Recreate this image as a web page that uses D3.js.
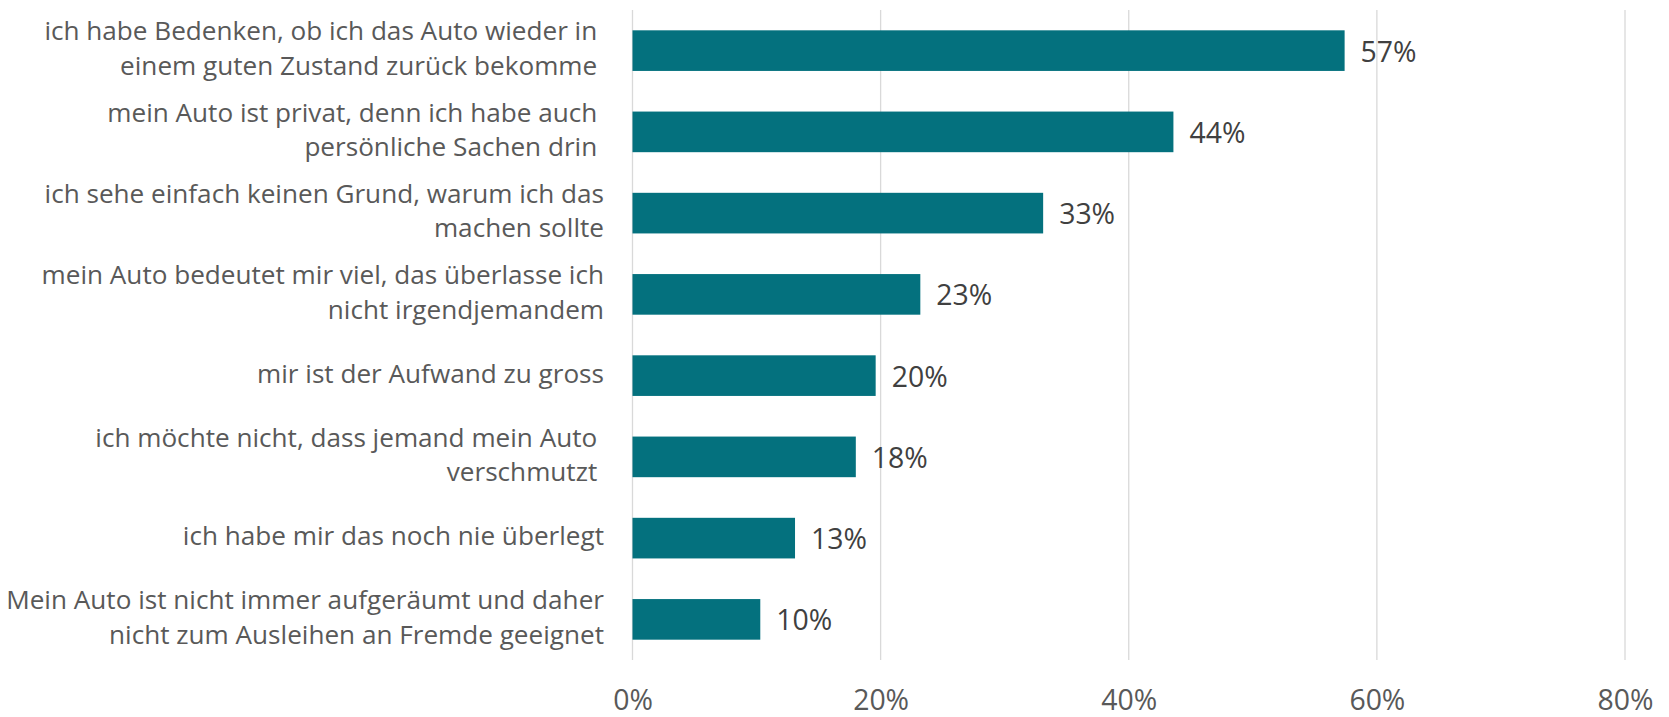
<!DOCTYPE html>
<html>
<head>
<meta charset="utf-8">
<script src="https://cdn.jsdelivr.net/npm/d3@7"></script>
<style>
  html, body { margin: 0; padding: 0; background: #ffffff; }
  svg { display: block; }
  text { font-family: "Open Sans", Lato, sans-serif; }
</style>
</head>
<body>
<svg id="chart" width="1669" height="717"></svg>
<script>
// ---- data ----
const categories = [
  ["ich habe Bedenken, ob ich das Auto wieder in ", "einem guten Zustand zurück bekomme "],
  ["mein Auto ist privat, denn ich habe auch ", "persönliche Sachen drin "],
  ["ich sehe einfach keinen Grund, warum ich das", "machen sollte"],
  ["mein Auto bedeutet mir viel, das überlasse ich", "nicht irgendjemandem"],
  ["mir ist der Aufwand zu gross"],
  ["ich möchte nicht, dass jemand mein Auto ", "verschmutzt "],
  ["ich habe mir das noch nie überlegt"],
  ["Mein Auto ist nicht immer aufgeräumt und daher", "nicht zum Ausleihen an Fremde geeignet"]
];
const values = [0.574, 0.436, 0.331, 0.232, 0.196, 0.180, 0.131, 0.103];
const valueLabels = ["57%", "44%", "33%", "23%", "20%", "18%", "13%", "10%"];
const tickValues = [0, 0.2, 0.4, 0.6, 0.8];
const tickLabels = ["0%", "20%", "40%", "60%", "80%"];

// ---- layout ----
const FONT = "'Open Sans', Lato, sans-serif";
const svg = d3.select("#chart");
const plot = { left: 632.5, right: 1625, top: 10, bottom: 660 };
const ids = categories.map((c, i) => i);

// fit font sizes to the reference text widths
function fitSize(str, targetWidth, base) {
  const t = svg.append("text").style("font-family", FONT).attr("font-size", base).text(str);
  const w = t.node().getComputedTextLength();
  t.remove();
  return base * targetWidth / w;
}
const catSize = fitSize("ich habe Bedenken, ob ich das Auto wieder in", 553, 24);
const numSize = fitSize("33%", 56, 30);

const x = d3.scaleLinear().domain([0, 0.8]).range([plot.left, plot.right]);
const y = d3.scaleBand().domain(ids).range([plot.top, plot.bottom])
  .paddingInner(0.5).paddingOuter(0.25);

// gridlines
svg.append("g").selectAll("line").data(tickValues).join("line")
  .attr("x1", d => x(d)).attr("x2", d => x(d))
  .attr("y1", plot.top).attr("y2", plot.bottom)
  .attr("stroke", "#d9d9d9").attr("stroke-width", 1.3);

// x axis tick labels
const xAxis = d3.axisBottom(x).tickValues(tickValues)
  .tickFormat((d, i) => tickLabels[i]).tickSize(0).tickPadding(0);
const gx = svg.append("g").attr("transform", `translate(0, ${plot.bottom})`).call(xAxis);
gx.select(".domain").remove();
gx.selectAll("text")
  .attr("y", 50).attr("dy", null)
  .style("font-family", FONT)
  .style("font-size", numSize + "px").attr("fill", "#595959");

// bars
svg.append("g").selectAll("rect").data(values).join("rect")
  .attr("x", x(0))
  .attr("y", (d, i) => y(i))
  .attr("width", d => x(d) - x(0))
  .attr("height", y.bandwidth())
  .attr("fill", "#04717e");

// value labels
svg.append("g").selectAll("text").data(values).join("text")
  .attr("x", d => x(d) + 16)
  .attr("y", (d, i) => y(i) + y.bandwidth() / 2 + 11)
  .attr("font-size", numSize)
  .attr("fill", "#404040")
  .text((d, i) => valueLabels[i]);

// category labels
const lineGap = 34.5;
const cat = svg.append("g").selectAll("text").data(categories).join("text")
  .attr("text-anchor", "end")
  .attr("font-size", catSize)
  .attr("fill", "#595959")
  .style("white-space", "pre")
  .attr("y", (d, i) => y(i) + y.bandwidth() / 2 + 7 - (d.length - 1) * lineGap / 2);
cat.selectAll("tspan").data(d => d).join("tspan")
  .attr("x", 604)
  .attr("dy", (d, j) => j === 0 ? 0 : lineGap)
  .text(d => d);
</script>
</body>
</html>
